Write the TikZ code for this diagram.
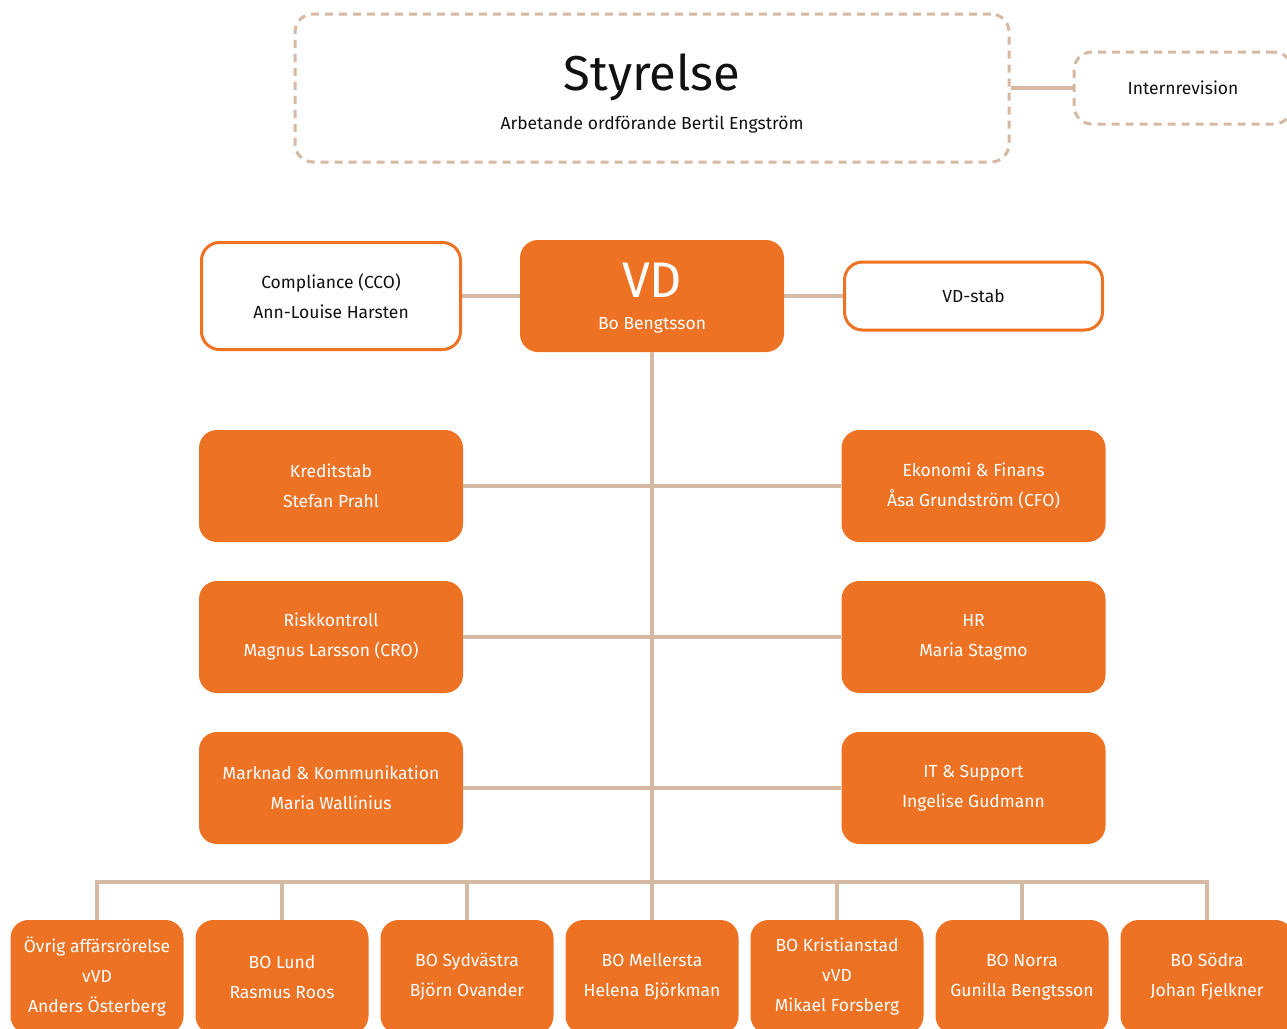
\documentclass[tikz,border=0pt]{standalone}
\usepackage{fontspec}
\setmainfont{Fira Sans}
\definecolor{vdorange}{HTML}{ED7224}
\definecolor{linjefarg}{HTML}{D5B9A3}
\definecolor{textsvart}{HTML}{111111}
\tikzset{
  ruta/.style={rounded corners=18pt, align=center, inner sep=0pt, font=\fontsize{17.5}{30}\selectfont},
  enhet/.style={ruta, fill=vdorange, text=white, minimum width=264pt, minimum height=112pt},
  stab/.style={ruta, draw=vdorange, line width=3pt, fill=white, text=textsvart},
  kontor/.style={ruta, fill=vdorange, text=white, minimum width=173pt, minimum height=114pt},
  streckad/.style={ruta, draw=linjefarg, line width=3pt, dash pattern=on 8pt off 6pt, text=textsvart},
  linje/.style={draw=linjefarg, line width=4pt},
}
\begin{document}
\begin{tikzpicture}[x=1pt,y=-1pt]
    \useasboundingbox (0,0) rectangle (1287,1028);
    \clip (0,0) rectangle (1287,1028);

    % styrelse och internrevision
    \node[streckad, minimum width=714pt, minimum height=148pt] (styrelse) at (652,88) {};
    \node[anchor=base, text=textsvart, font=\fontsize{49}{49}\selectfont] (styrelserubrik) at (652,90) {Styrelse};
    \node[anchor=base, text=textsvart, font=\fontsize{17.5}{20}\selectfont] (ordforande) at (652,129) {Arbetande ordförande Bertil Engström};
    \node[streckad, minimum width=218pt, minimum height=72pt] (internrevision) at (1183,88) {Internrevision};

    % vd med stab
    \node[enhet] (vd) at (652,296) {};
    \node[anchor=base, text=white, font=\fontsize{50}{50}\selectfont] (vdrubrik) at (652,297) {VD};
    \node[anchor=base, text=white, font=\fontsize{17.5}{20}\selectfont] (vdnamn) at (652,329) {Bo Bengtsson};
    \node[stab, minimum width=259pt, minimum height=107pt] (compliance) at (331,296) {Compliance (CCO)\\Ann-Louise Harsten};
    \node[stab, minimum width=258pt, minimum height=68pt] (vdstab) at (973.5,296) {VD-stab};

    % staber
    \node[enhet] (kreditstab) at (331,486) {Kreditstab\\Stefan Prahl};
    \node[enhet] (ekonomi) at (973.5,486) {Ekonomi \& Finans\\Åsa Grundström (CFO)};
    \node[enhet] (riskkontroll) at (331,637) {Riskkontroll\\Magnus Larsson (CRO)};
    \node[enhet] (hr) at (973.5,637) {HR\\Maria Stagmo};
    \node[enhet] (marknad) at (331,788) {Marknad \& Kommunikation\\Maria Wallinius};
    \node[enhet] (it) at (973.5,788) {IT \& Support\\Ingelise Gudmann};

    % bankomraden
    \foreach \i/\txt in {1/{Övrig affärsrörelse\\vVD\\Anders Österberg},
                         2/{BO Lund\\Rasmus Roos},
                         3/{BO Sydvästra\\Björn Ovander},
                         4/{BO Mellersta\\Helena Björkman},
                         5/{BO Kristianstad\\vVD\\Mikael Forsberg},
                         6/{BO Norra\\Gunilla Bengtsson},
                         7/{BO Södra\\Johan Fjelkner}}
        \node[kontor] (bo\i) at ({97+185*(\i-1)},977) {\txt};
    \coordinate (buss) at (652,882);

    % linjer
    \draw[linje] (styrelse.east) -- (internrevision.west);
    \draw[linje] (compliance.east) -- (vd.west);
    \draw[linje] (vd.east) -- (vdstab.west);
    \draw[linje] (kreditstab.east) -- (ekonomi.west);
    \draw[linje] (riskkontroll.east) -- (hr.west);
    \draw[linje] (marknad.east) -- (it.west);
    \draw[linje] (vd.south) -- (bo4.north);
    \draw[linje] (bo1.north) |- (buss) -| (bo7.north);
    \foreach \i in {2,3,5,6}
        \draw[linje] (bo\i.north) -- (bo\i.north |- buss);
\end{tikzpicture}
\end{document}
